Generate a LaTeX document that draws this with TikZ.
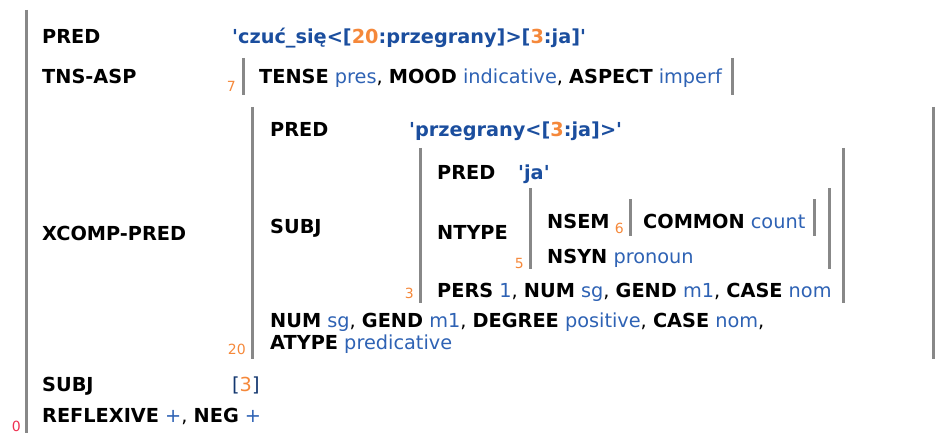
\documentclass[tikz,border=0pt]{standalone}
\usepackage{fontspec}
\setmainfont{DejaVu Sans}
\definecolor{valblue}{HTML}{2E62B4}
\definecolor{predblue}{HTML}{1B4E9E}
\definecolor{idxorange}{HTML}{F5883A}
\definecolor{rootred}{HTML}{EE3050}
\definecolor{bargray}{HTML}{888888}
\newcommand\fkey[1]{\textbf{#1}}
\newcommand\fval[1]{\textcolor{valblue}{#1}}
\newcommand\fpv[1]{\textcolor{predblue}{\textbf{#1}}}
\newcommand\fidx[1]{\textcolor{idxorange}{#1}}
\newcommand\sq{\XeTeXglyph\XeTeXcharglyph"0027\relax}
\begin{document}
\begin{tikzpicture}[x=1pt,y=-1pt,
  txt/.style={anchor=base west,inner sep=0pt,font=\fontsize{19.3pt}{23pt}\selectfont},
  lbl/.style={anchor=base east,inner sep=0pt,font=\fontsize{14pt}{16pt}\selectfont,text=idxorange},
  bar/.style={draw=bargray,line width=3pt}]
\useasboundingbox (0,0) rectangle (937,433);
% bars
\draw[bar] (26,10) -- (26,433);
\draw[bar] (243,58) -- (243,95);
\draw[bar] (732,58) -- (732,95);
\draw[bar] (252,107) -- (252,359);
\draw[bar] (933,107) -- (933,359);
\draw[bar] (420,148) -- (420,303);
\draw[bar] (843,148) -- (843,303);
\draw[bar] (530,188) -- (530,269);
\draw[bar] (829,188) -- (829,269);
\draw[bar] (630,199) -- (630,236);
\draw[bar] (814,199) -- (814,236);
% labels
\node[lbl,text=rootred] (l0) at (21,431) {0};
\node[lbl] (l7) at (236,92) {7};
\node[lbl] (l20) at (246,354) {20};
\node[lbl] (l3) at (414,298) {3};
\node[lbl] (l5) at (524,268) {5};
\node[lbl] (l6) at (624,233) {6};
% outer
\node[txt] (k1) at (42,44) {\fkey{PRED}};
\node[txt] (v1) at (232,44) {\fpv{\sq czuć\_się<[\fidx{20}:przegrany]>[\fidx{3}:ja]\sq}};
\node[txt] (k2) at (42,84) {\fkey{TNS-ASP}};
\node[txt] (v2) at (259,84) {\fkey{TENSE} \fval{pres}, \fkey{MOOD} \fval{indicative}, \fkey{ASPECT} \fval{imperf}};
\node[txt] (k3) at (42,240) {\fkey{XCOMP-PRED}};
% xcomp
\node[txt] (k4) at (270,136) {\fkey{PRED}};
\node[txt] (v4) at (409,136) {\fpv{\sq przegrany<[\fidx{3}:ja]>\sq}};
\node[txt] (k5) at (270,233) {\fkey{SUBJ}};
% subj
\node[txt] (k6) at (437,179) {\fkey{PRED}};
\node[txt] (v6) at (518,179) {\fpv{\sq ja\sq}};
\node[txt] (k7) at (437,239) {\fkey{NTYPE}};
\node[txt] (k8) at (547,228) {\fkey{NSEM}};
\node[txt] (v8) at (643,228) {\fkey{COMMON} \fval{count}};
\node[txt] (k9) at (547,263) {\fkey{NSYN} \fval{pronoun}};
\node[txt] (k10) at (437,297) {\fkey{PERS} \fval{1}, \fkey{NUM} \fval{sg}, \fkey{GEND} \fval{m1}, \fkey{CASE} \fval{nom}};
\node[txt] (k11) at (270,327) {\fkey{NUM} \fval{sg}, \fkey{GEND} \fval{m1}, \fkey{DEGREE} \fval{positive}, \fkey{CASE} \fval{nom},};
\node[txt] (k12) at (270,349) {\fkey{ATYPE} \fval{predicative}};
% outer rest
\node[txt] (k13) at (42,391) {\fkey{SUBJ}};
\node[txt] (v13) at (232,391) {\textcolor{predblue!70!black}{[}\fidx{3}\textcolor{predblue!70!black}{]}};
\node[txt] (k14) at (42,422) {\fkey{REFLEXIVE} \fval{+}, \fkey{NEG} \fval{+}};
\end{tikzpicture}
\end{document}
